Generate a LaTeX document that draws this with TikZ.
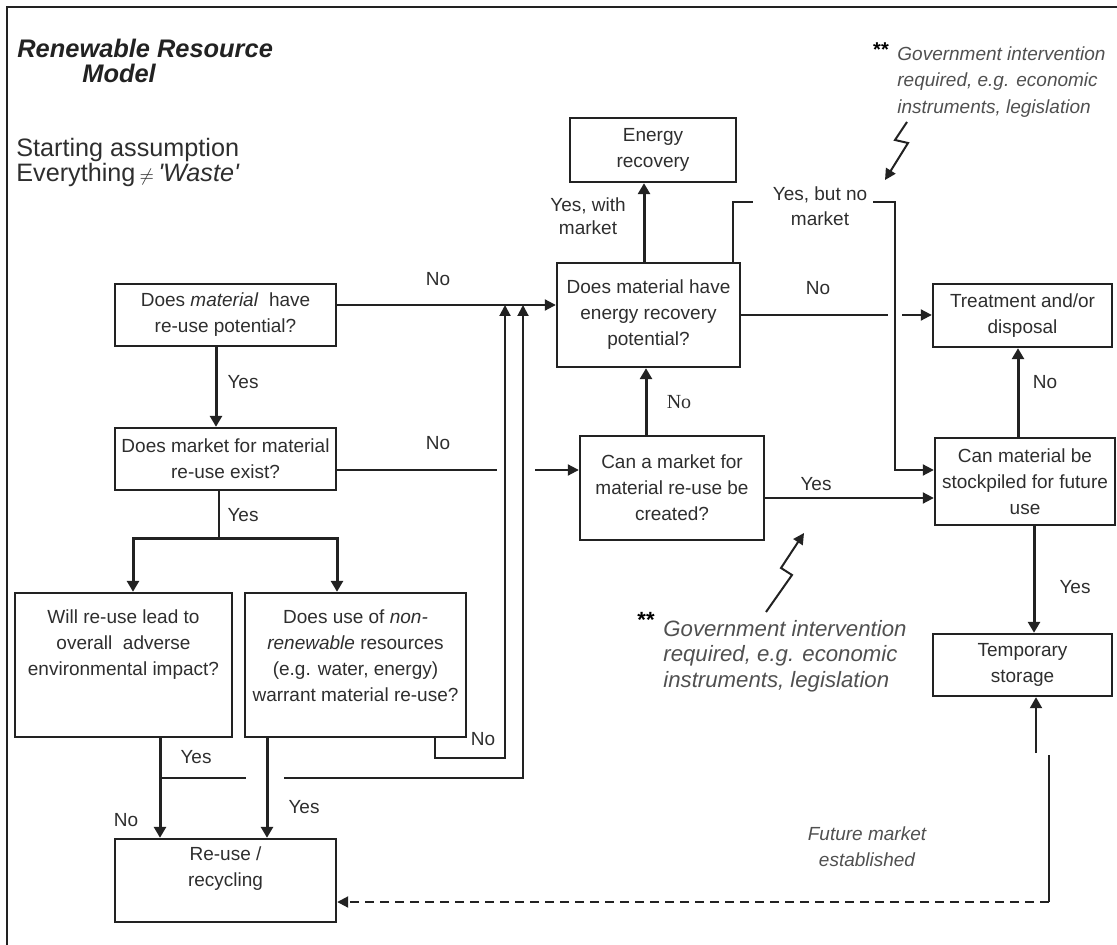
\documentclass[tikz,border=0pt]{standalone}
\usepackage{fontspec}
\setmainfont{Liberation Sans}
\newfontfamily\serifno{Liberation Serif}
\usetikzlibrary{positioning, arrows.meta}
\definecolor{linegray}{HTML}{222222}
\definecolor{textgray}{HTML}{2E2E2E}
\definecolor{notegray}{HTML}{505050}
\newcommand{\boxfont}{\fontsize{9.5}{13}\selectfont}
\tikzstyle{decision} = [rectangle, draw=linegray, line width=1.2pt, text=textgray, align=center, font=\boxfont]
\tikzstyle{outcome} = [rectangle, draw=linegray, line width=1.2pt, text=textgray, align=center, font=\boxfont]
\tikzstyle{answer} = [text=textgray, align=center, inner sep=0pt, font=\boxfont]
\tikzstyle{note} = [text=notegray, align=left, inner sep=0pt, anchor=north west]
\tikzstyle{flow} = [line width=1pt, draw=linegray]
\tikzstyle{flowarrow} = [flow, -{Triangle[length=5.5pt,width=5.5pt]}]
\tikzstyle{arrow} = [line width=1.5pt, draw=linegray, -{Triangle[length=5.5pt,width=6pt]}]

\begin{document}
\begin{tikzpicture}[x=0.5pt, y=-0.5pt]
\useasboundingbox (0,0) rectangle (1117,945);
\draw [line width=1.2pt, linegray] (7,945) -- (7,7) -- (1117,7);

\node (title) [anchor=north west, inner sep=0pt, align=left, font={\fontsize{12.7}{12.5}\selectfont\bfseries\itshape}, text=linegray] at (17,39) {Renewable Resource\\\hspace*{32.5pt}Model};
\node (start) [anchor=north west, inner sep=0pt, align=left, font={\fontsize{12.6}{12.5}\selectfont}, text=textgray] at (16,138) {Starting assumption\\Everything\,{\small$\neq$}\,\textit{\textquotesingle Waste\textquotesingle}};

% question boxes
\node (dec1) [decision, minimum width=110.5pt, minimum height=31pt] at (225.5,315) {Does \textit{material}\ \ have\\re-use potential?};
\node (dec2) [decision, minimum width=110.5pt, minimum height=31pt] at (225.5,459) {Does market for material\\re-use exist?};
\node (dec3) [decision, minimum width=91.5pt, minimum height=52pt] at (648.5,315) {Does material have\\energy recovery\\potential?};
\node (dec4) [decision, minimum width=92pt, minimum height=52pt] at (672,488) {Can a market for\\material re-use be\\created?};
\node (dec5) [decision, minimum width=108.5pt, minimum height=72pt] at (123.5,665) {};
\node (dec5txt) [answer, below=9pt of dec5.north] {Will re-use lead to\\overall\ \ adverse\\environmental impact?};
\node (dec6) [decision, minimum width=110.5pt, minimum height=72pt] at (355.5,665) {};
\node (dec6txt) [answer, below=9pt of dec6.north] {Does use of \textit{non-}\\\textit{renewable} resources\\(e.g. water, energy)\\warrant material re-use?};
\node (dec7) [decision, minimum width=90pt, minimum height=43.5pt] at (1025,481.5) {Can material be\\stockpiled for future\\use};

% outcome boxes
\node (energy) [outcome, minimum width=83pt, minimum height=32pt] at (653,150) {Energy\\recovery};
\node (treat) [outcome, minimum width=89.5pt, minimum height=31.5pt] at (1022.5,315.5) {Treatment and/or\\disposal};
\node (temp) [outcome, minimum width=89.5pt, minimum height=31pt] at (1022.5,665) {Temporary\\storage};
\node (reuse) [outcome, minimum width=110.5pt, minimum height=41.5pt] at (225.5,880.5) {};
\node (reusetxt) [answer, below=4.5pt of reuse.north] {Re-use /\\recycling};

% notes
\node (star1) [font={\fontsize{10}{10}\selectfont\bfseries}, inner sep=0pt] at (881,50) {**};
\node (gov1) [note, font={\fontsize{9.5}{13.25}\selectfont\itshape}] at (897,46) {Government intervention\\required, e.g. economic\\instruments, legislation};
\node (star2) [font={\fontsize{11}{11}\selectfont\bfseries}, inner sep=0pt] at (646,620) {**};
\node (gov2) [note, font={\fontsize{11.1}{12.75}\selectfont\itshape}] at (663,620) {Government intervention\\required, e.g. economic\\instruments, legislation};
\node (future) [answer, text=notegray, font={\fontsize{9.5}{13}\selectfont\itshape}] at (867,847) {Future market\\established};

% answers
\node (no1) [answer] at (438,279) {No};
\node (no2) [answer] at (438,443) {No};
\node (yes1) [answer] at (243,382) {Yes};
\node (yes2) [answer] at (243,515) {Yes};
\node (yes3) [answer] at (196,757) {Yes};
\node (no3) [answer] at (126,820) {No};
\node (yes4) [answer] at (304,807) {Yes};
\node (no4) [answer] at (483,739) {No};
\node (yes5) [answer, font={\fontsize{9.5}{11.5}\selectfont}] at (588,216) {Yes, with\\market};
\node (yes6) [answer, font={\fontsize{9.5}{12.5}\selectfont}] at (820,206) {Yes, but no\\market};
\node (no5) [answer] at (818,288) {No};
\node (yes7) [answer] at (816,484) {Yes};
\node (no6) [answer, font={\fontsize{10}{12}\selectfont\serifno}] at (679,402) {No};
\node (no7) [answer] at (1045,382) {No};
\node (yes8) [answer] at (1075,587) {Yes};

\coordinate (split) at (219,538);
\coordinate (fm) at (1049,755);

\draw [arrow] (dec1.south -| 216,0) -- (dec2.north -| 216,0);
\draw [flow] (dec2.south -| 219,0) -- (split);
\draw [arrow] (split) -| (dec5.north -| 133,0);
\draw [arrow] (split) -| (dec6.north -| 337,0);
\draw [arrow] (dec5.south -| 160,0) -- (reuse.north -| 160,0);
\draw [arrow] (dec6.south -| 267,0) -- (reuse.north -| 267,0);
\draw [flow] (160,778) -- (246,778);
\draw [flowarrow] (284,778) -- (523,778) -- (523,305);
\draw [flowarrow] (dec6.south -| 435,0) |- (505,758) -- (505,305);

\draw [flowarrow] (dec1.east |- 0,305) -- (dec3.west |- 0,305);
\draw [flow] (dec2.east |- 0,470) -- (497,470);
\draw [flowarrow] (535,470) -- (dec4.west |- 0,470);
\draw [arrow] (dec4.north -| 646,0) -- (dec3.south -| 646,0);
\draw [arrow] (dec3.north -| 644,0) -- (energy.south -| 644,0);
\draw [flow] (dec3.north -| 733,0) |- (753,202);
\draw [flowarrow] (873,202) -| (895,470) -- (dec7.west |- 0,470);
\draw [flow] (dec3.east) -- (888,315);
\draw [flowarrow] (902,315) -- (treat.west |- 0,315);
\draw [flowarrow] (dec4.east |- 0,498) -- (dec7.west |- 0,498);
\draw [arrow] (dec7.north -| 1018,0) -- (treat.south -| 1018,0);
\draw [arrow] (dec7.south -| 1034,0) -- (temp.north -| 1034,0);
\draw [arrow, line width=1pt] (1036,753) -- (temp.south -| 1036,0);
\draw [flow] (fm) -- (1049,902);
\draw [flowarrow, dash pattern=on 4.5pt off 3pt] (1049,902) -- (reuse.east |- 0,902);

% lightning arrows
\draw [flowarrow] (907,122) -- (895,140) -- (908,143) -- (885,180);
\draw [flowarrow] (766,612) -- (792,575) -- (781,568) -- (804,533);
\end{tikzpicture}
\end{document}
